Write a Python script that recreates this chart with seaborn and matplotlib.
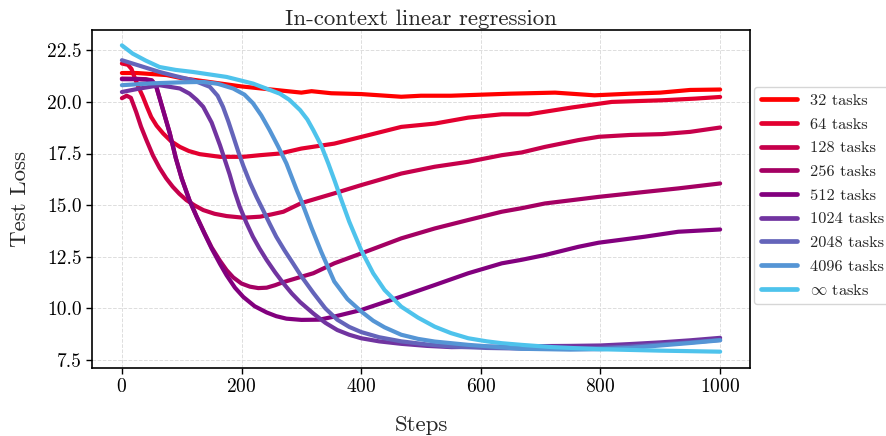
import matplotlib
matplotlib.use("Agg")
import matplotlib.pyplot as plt
import seaborn as sns
import pandas as pd

# ---------------- data ----------------
labels = ["32 tasks", "64 tasks", "128 tasks", "256 tasks", "512 tasks",
          "1024 tasks", "2048 tasks", "4096 tasks", r"$\infty$ tasks"]

steps_32 = [0, 25, 50, 75, 100, 150, 200, 250, 300, 317, 350, 400, 467, 500, 550, 600,
            650, 724, 790, 850, 900, 950, 1000]
loss_32 = [21.4, 21.4, 21.35, 21.3, 21.15, 20.95, 20.75, 20.6, 20.45, 20.52, 20.42, 20.38,
           20.25, 20.3, 20.3, 20.35, 20.4, 20.45, 20.32, 20.4, 20.45, 20.58, 20.6]

steps_64 = [0, 10, 16, 21, 28, 35, 42, 49, 58, 69, 82, 97, 112, 130, 164, 203, 231, 264,
            300, 355, 412, 467, 523, 579, 635, 680, 752, 819, 903, 958, 1000]
loss_64 = [21.86, 21.8, 21.6, 21.2, 20.7, 20.26, 19.75, 19.27, 18.85, 18.47, 18.1, 17.82,
           17.62, 17.47, 17.34, 17.34, 17.42, 17.5, 17.74, 17.98, 18.39, 18.79, 18.95,
           19.24, 19.4, 19.4, 19.73, 20.0, 20.08, 20.16, 20.24]

steps_128 = [0, 8, 15, 24, 32, 41, 52, 63, 74, 85, 96, 108, 122, 136, 155, 175, 203, 231,
             250, 270, 300, 355, 400, 467, 523, 579, 635, 668, 707, 763, 797, 850, 903,
             950, 1000]
loss_128 = [20.18, 20.3, 20.2, 19.5, 18.8, 18.15, 17.4, 16.8, 16.3, 15.89, 15.55, 15.24,
            14.98, 14.76, 14.58, 14.47, 14.39, 14.44, 14.55, 14.68, 15.1, 15.57, 15.97,
            16.53, 16.86, 17.1, 17.42, 17.55, 17.82, 18.15, 18.31, 18.4, 18.44, 18.55,
            18.76]

steps_256 = [0, 25, 40, 50, 57, 63, 70, 80, 90, 100, 113, 125, 138, 150, 164, 175, 186,
             200, 214, 228, 242, 256, 270, 300, 320, 355, 400, 467, 523, 579, 635, 668,
             707, 752, 797, 874, 930, 1000]
loss_256 = [21.13, 21.12, 21.1, 21.05, 20.8, 20.2, 19.5, 18.5, 17.3, 16.3, 15.24, 14.45,
            13.65, 12.95, 12.3, 11.85, 11.5, 11.2, 11.05, 10.98, 11.0, 11.12, 11.27, 11.53,
            11.7, 12.18, 12.66, 13.39, 13.87, 14.28, 14.68, 14.85, 15.08, 15.24, 15.4,
            15.64, 15.81, 16.05]

steps_512 = [0, 25, 40, 50, 57, 63, 70, 80, 90, 100, 113, 125, 138, 150, 164, 175, 189,
             203, 222, 242, 258, 275, 300, 330, 355, 400, 467, 523, 579, 635, 668, 707,
             763, 797, 874, 930, 1000]
loss_512 = [21.1, 21.1, 21.08, 21.02, 20.78, 20.18, 19.48, 18.48, 17.28, 16.28, 15.22,
            14.43, 13.62, 12.9, 12.15, 11.6, 11.0, 10.55, 10.1, 9.8, 9.62, 9.5, 9.44,
            9.45, 9.6, 9.92, 10.57, 11.13, 11.7, 12.18, 12.35, 12.58, 12.98, 13.18, 13.47,
            13.71, 13.82]

steps_1024 = [0, 30, 63, 97, 113, 125, 136, 150, 164, 172, 180, 188, 197, 208, 219, 230,
              242, 256, 270, 284, 298, 320, 340, 360, 380, 400, 430, 467, 510, 551, 650,
              700, 750, 800, 850, 900, 950, 1000]
loss_1024 = [20.48, 20.65, 20.81, 20.65, 20.4, 20.1, 19.76, 19.0, 17.9, 17.2, 16.5, 15.7,
             14.92, 14.15, 13.47, 12.9, 12.34, 11.75, 11.21, 10.72, 10.3, 9.75, 9.3, 8.95,
             8.72, 8.55, 8.4, 8.28, 8.18, 8.12, 8.15, 8.17, 8.18, 8.2, 8.27, 8.35, 8.45,
             8.57]

steps_2048 = [0, 30, 63, 90, 119, 147, 160, 169, 178, 186, 195, 203, 214, 225, 236, 247,
              258, 272, 286, 300, 320, 340, 360, 380, 400, 430, 467, 510, 551, 610, 668,
              750, 800, 850, 900, 950, 1000]
loss_2048 = [22.02, 21.75, 21.45, 21.25, 21.05, 20.73, 20.3, 19.76, 19.05, 18.35, 17.55,
             16.9, 16.1, 15.4, 14.76, 14.1, 13.47, 12.8, 12.18, 11.55, 10.75, 10.0, 9.45,
             9.1, 8.85, 8.6, 8.4, 8.25, 8.15, 8.08, 8.05, 8.06, 8.08, 8.15, 8.25, 8.35,
             8.47]

steps_4096 = [0, 50, 100, 136, 160, 186, 205, 219, 233, 247, 261, 275, 292, 300, 317, 333,
              355, 377, 400, 420, 439, 467, 495, 523, 579, 668, 750, 800, 850, 900, 950,
              1000]
loss_4096 = [20.81, 20.9, 20.95, 20.97, 20.88, 20.65, 20.35, 19.94, 19.35, 18.63, 17.85,
             17.02, 15.75, 15.2, 13.9, 12.75, 11.3, 10.45, 9.85, 9.4, 9.08, 8.72, 8.52,
             8.39, 8.23, 8.04, 8.0, 8.02, 8.08, 8.2, 8.32, 8.45]

steps_inf = [0, 18, 40, 63, 90, 119, 175, 219, 264, 280, 298, 310, 320, 333, 345, 356,
             367, 380, 400, 420, 439, 467, 495, 523, 550, 579, 610, 635, 668, 720, 797,
             900, 1000]
loss_inf = [22.74, 22.34, 22.0, 21.69, 21.55, 21.45, 21.21, 20.89, 20.4, 20.1, 19.6,
            19.15, 18.63, 17.9, 17.02, 16.15, 15.24, 14.2, 12.82, 11.7, 10.89, 10.08, 9.55,
            9.11, 8.8, 8.55, 8.4, 8.31, 8.23, 8.12, 8.02, 7.95, 7.9]

colors = ["#FF0000", "#E3002F", "#C6004B", "#A40063", "#82007E",
          "#7134A0", "#6464BA", "#5595D5", "#4EC3EC"]

all_steps = [steps_32, steps_64, steps_128, steps_256, steps_512,
             steps_1024, steps_2048, steps_4096, steps_inf]
all_loss = [loss_32, loss_64, loss_128, loss_256, loss_512,
            loss_1024, loss_2048, loss_4096, loss_inf]

rows = []
for lab, xs, ys in zip(labels, all_steps, all_loss):
    for x, y in zip(xs, ys):
        rows.append({"Steps": x, "Test Loss": y, "series": lab})
df = pd.DataFrame(rows)

# ---------------- style ----------------
sns.set_style("ticks")
plt.rcParams["font.family"] = ["cmr10", "DejaVu Serif"]
plt.rcParams["mathtext.fontset"] = "cm"
plt.rcParams["axes.formatter.use_mathtext"] = True
plt.rcParams["axes.unicode_minus"] = False

fig = plt.figure(figsize=(8.87, 4.36), dpi=100)
ax = fig.add_axes([0.1037, 0.156, 0.7419, 0.775])

sns.lineplot(data=df, x="Steps", y="Test Loss", hue="series", hue_order=labels,
             palette=dict(zip(labels, colors)), linewidth=3.0, ax=ax,
             estimator=None, sort=False)
for ln in ax.get_lines():
    ln.set_solid_capstyle("round")
    ln.set_solid_joinstyle("round")

ax.grid(True, linestyle="--", linewidth=0.7, color="#dddddd")
ax.set_axisbelow(True)
for s in ax.spines.values():
    s.set_visible(True)
    s.set_color("black")
    s.set_linewidth(1.2)
ax.tick_params(axis="both", direction="out", length=4, width=1, color="black",
               labelsize=14, labelcolor="black")
ax.set_xticks([0, 200, 400, 600, 800, 1000])
ax.set_yticks([7.5, 10.0, 12.5, 15.0, 17.5, 20.0, 22.5])
ax.set_yticklabels(["7.5", "10.0", "12.5", "15.0", "17.5", "20.0", "22.5"])
ax.set_xlim(-50, 1050)
ax.set_ylim(7.11, 23.48)

ax.set_title("In-context linear regression", fontsize=16.5, pad=4)
ax.set_xlabel("Steps", fontsize=16.5, labelpad=13.5)
ax.set_ylabel("Test Loss", fontsize=16.5, labelpad=12)

handles, labs = ax.get_legend_handles_labels()
leg = ax.legend(handles, labs, loc="center left", bbox_to_anchor=(1.006, 0.51),
                fontsize=11.8, frameon=True, handlelength=2.2, borderaxespad=0.0,
                labelspacing=0.56)
for h in leg.get_lines():
    h.set_linewidth(3.4)
leg.get_frame().set_edgecolor("#cccccc")

fig.savefig("out.png", dpi=100)
